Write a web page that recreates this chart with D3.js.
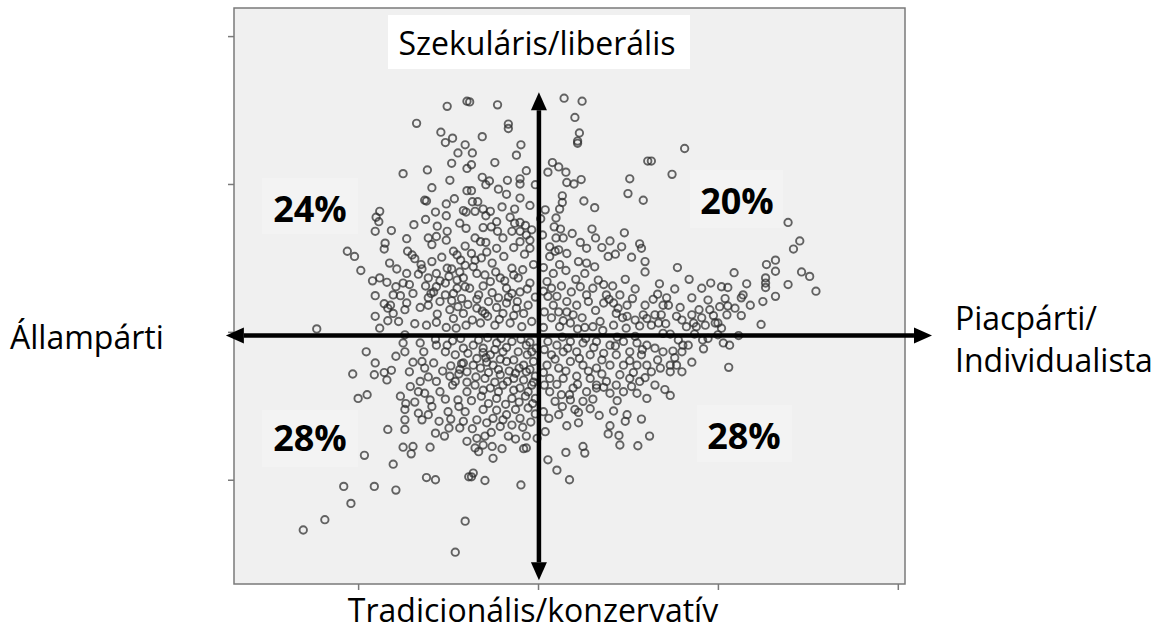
<!DOCTYPE html>
<html>
<head>
<meta charset="utf-8">
<script src="https://cdn.jsdelivr.net/npm/d3@7"></script>
<style>
  body { margin: 0; background: #ffffff; }
</style>
</head>
<body>
<div id="chart"></div>
<script>
// factor scores: [economic (state -> market), cultural (traditional -> secular)]
const scores = [
  [-1.01,3.05],[-0.79,3.12],[-1.35,2.82],[-1.08,2.70],[-1.03,2.56],[-0.95,2.62],[-0.81,2.53],[-0.96,2.28],[-0.79,2.21],[-1.50,2.14],
  [-1.23,2.19],[-0.79,1.91],[-1.26,1.78],[-1.24,1.77],[-0.93,1.80],[-1.02,1.73],[-1.14,1.62],[-1.02,1.57],[-0.83,1.64],[-0.80,1.62],
  [-1.25,1.52],[-1.76,1.63],[-1.80,1.55],[-1.77,1.49],[-1.81,1.36],[-1.63,1.37],[-1.46,1.26],[-0.80,1.40],[-1.01,1.36],[-1.22,1.27],
  [-1.13,1.29],[-1.02,1.24],[-1.70,1.20],
  [-0.76,3.11],[-0.45,3.07],[0.29,3.16],[0.49,3.12],[0.41,2.90],[-0.33,2.81],[-0.33,2.75],[0.46,2.69],[0.44,2.58],[0.44,2.55],
  [-0.62,2.64],[-0.19,2.53],[-0.24,2.39],[-0.73,2.42],[1.22,2.31],[-0.74,2.26],[0.16,2.29],[0.23,2.23],[0.11,2.16],[0.31,2.16],
  [0.32,2.02],[0.40,2.00],[0.48,2.06],[1.02,2.07],[1.00,1.87],[1.17,1.78],[-0.54,2.04],[-0.58,1.99],[-0.34,2.05],[-0.20,2.07],
  [-0.20,2.00],[-0.03,1.99],[-0.35,1.86],[-0.20,1.81],[-0.74,1.91],[-0.73,1.76],[0.27,1.84],[0.27,1.75],[0.24,1.66],[0.20,1.54],
  [0.51,1.77],[0.63,1.68],[-0.40,1.69],[-0.26,1.66],[-0.70,1.63],[-0.61,1.66],[-0.58,1.57],[-0.53,1.63],[-0.46,1.49],[-0.61,1.41],
  [-0.26,1.47],[-0.20,1.48],[-0.14,1.44],[0.08,1.65],[0.03,1.53],[-0.07,1.38],[-0.29,1.36],[-0.20,1.36],[-0.45,1.36],[0.25,1.39],
  [0.20,1.27],[0.28,1.27],[0.60,1.39],[0.64,1.27],[0.80,1.23],[0.96,1.34],[1.13,1.19],[-0.70,1.27],[-0.64,1.22],[-0.20,1.22],
  [-0.09,1.24],
  [1.63,2.48],[1.26,2.31],[1.49,2.13],[2.78,1.48],[2.91,1.23],
  [-2.12,1.09],[-2.04,1.02],[-1.71,1.12],[-1.97,0.83],[-1.65,0.93],[-1.57,0.85],[-1.46,0.79],[-1.45,1.09],[-1.40,1.04],[-1.37,0.99],
  [-1.30,0.91],[-1.29,0.85],[-1.33,0.78],[-1.84,0.69],[-1.76,0.73],[-1.68,0.67],[-1.50,0.66],[-1.22,0.73],[-1.13,0.79],[-1.01,0.86],
  [-0.96,0.85],[-1.18,1.18],[-0.94,1.09],[-0.90,1.04],[-0.81,0.90],[-1.81,0.49],[-1.61,0.50],[-1.53,0.49],[-1.64,0.36],[-1.67,0.32],
  [-1.46,0.39],[-1.48,0.30],[-1.61,0.25],[-1.81,0.21],[-1.67,0.15],[-1.76,0.05],[-1.22,0.46],[-1.22,0.36],[-1.16,0.54],[-1.13,0.61],
  [-1.03,0.66],[-1.03,0.50],[-0.94,0.52],[-0.90,0.59],[-0.81,0.61],[-0.83,0.73],[-0.90,0.70],[-0.98,0.30],[-0.89,0.34],[-0.83,0.25],
  [-1.24,0.09],[-1.13,0.13],[-1.02,0.06],[-0.91,0.05],[-0.80,0.09],[-2.46,0.04],[-1.48,-0.04],[-1.50,-0.15],[-1.48,-0.27],[-1.91,-0.27],
  [-1.81,-0.42],[-2.06,-0.57],[-1.82,-0.58],[-1.71,-0.55],[-1.68,-0.65],[-2.00,-0.90],[-1.90,-0.85],[-1.43,-0.54],[-1.31,-0.15],[-1.27,-0.27],
  [-1.29,-0.40],[-1.26,-0.49],[-1.13,-0.18],[-1.03,-0.27],[-0.92,-0.31],[-0.83,-0.22],[-1.14,-0.10],[-1.01,-0.18],[-1.53,-0.87],[-1.42,-0.74],
  [-1.31,-0.67],[-1.33,-0.81],[-1.26,-0.83],[-1.13,-0.67],[-1.09,-0.81],[-0.98,-0.60],[-0.92,-0.67],[-0.89,-0.92],[-0.79,-0.81],[-1.20,-0.92],
  [-1.03,-0.91],[-0.83,-0.42],[-0.87,-0.51],[-0.79,-0.54],
  [-0.46,1.13],[-0.27,1.14],[-0.09,1.13],[0.13,1.15],[0.23,1.11],[0.32,1.06],[0.54,1.13],[0.78,1.02],[0.93,1.15],[1.15,1.13],
  [1.19,0.95],[1.19,0.81],[-0.70,0.97],[-0.63,1.00],[-0.51,0.93],[-0.68,0.79],[-0.59,0.77],[-0.53,0.68],[-0.42,0.73],[-0.35,0.59],
  [-0.29,0.86],[-0.27,0.77],[-0.22,0.73],[-0.09,0.66],[-0.20,0.54],[-0.29,0.52],[0.13,1.02],[0.19,1.09],[0.24,0.91],[0.17,0.79],
  [0.10,0.68],[0.15,0.59],[0.11,0.48],[0.21,0.48],[0.32,0.41],[0.23,0.27],[0.15,0.19],[0.32,0.27],[0.45,0.95],[0.54,0.93],
  [0.63,0.88],[0.52,0.79],[0.47,0.61],[0.54,0.50],[0.56,0.41],[0.67,0.70],[0.73,0.64],[0.76,0.50],[0.91,0.50],[0.99,0.36],
  [0.84,0.39],[0.73,0.39],[0.87,0.25],[0.99,0.21],[1.08,0.16],[1.19,0.36],[1.17,0.23],[0.43,0.36],[0.39,0.23],[0.49,0.19],
  [0.36,0.12],[0.24,0.07],[0.84,0.09],[0.61,0.07],[0.69,0.14],
  [-0.76,0.59],[-0.66,0.50],[-0.55,0.41],[-0.68,0.32],[-0.59,0.25],[-0.44,0.46],[-0.35,0.39],[-0.39,0.25],[-0.24,0.32],[-0.16,0.25],
  [-0.07,0.14],[-0.64,0.12],[-0.48,0.09],[-0.31,0.12],[-0.18,0.07],
  [-0.72,-0.18],[-0.61,-0.22],[-0.46,-0.15],[-0.29,-0.13],[-0.13,-0.18],[-0.07,-0.27],[-0.22,-0.27],[-0.39,-0.27],[-0.53,-0.31],[-0.68,-0.36],
  [-0.64,-0.49],[-0.50,-0.45],[-0.35,-0.40],[-0.27,-0.38],[-0.16,-0.45],[-0.05,-0.40],[-0.59,-0.63],[-0.42,-0.58],[-0.27,-0.63],[-0.13,-0.54],
  [-0.03,-0.60],[-0.70,-0.72],[-0.53,-0.76],[-0.39,-0.72],[-0.20,-0.76],[-0.07,-0.72],[-0.63,-0.87],[-0.46,-0.90],[-0.29,-0.90],[-0.14,-0.87],
  [-0.03,-0.90],
  [0.11,-0.13],[0.21,-0.18],[0.36,-0.13],[0.50,-0.15],[0.65,-0.13],[0.80,-0.18],[0.95,-0.13],[1.10,-0.15],[1.21,-0.18],[0.15,-0.31],
  [0.28,-0.27],[0.43,-0.27],[0.58,-0.31],[0.73,-0.29],[0.87,-0.31],[1.02,-0.27],[1.15,-0.31],[0.10,-0.45],[0.23,-0.49],[0.36,-0.40],
  [0.50,-0.45],[0.65,-0.49],[0.80,-0.45],[0.95,-0.45],[1.10,-0.45],[1.21,-0.45],[0.13,-0.63],[0.28,-0.63],[0.43,-0.60],[0.58,-0.63],
  [0.65,-0.72],[0.76,-0.67],[0.87,-0.72],[1.02,-0.63],[1.13,-0.67],[0.13,-0.81],[0.26,-0.85],[0.39,-0.76],[0.54,-0.81],[0.65,-0.76],
  [0.80,-0.83],[0.95,-0.81],[1.10,-0.83],[1.21,-0.90],[0.19,-0.94],[0.36,-0.92],[0.50,-0.94],
  [2.84,1.12],[1.55,0.87],[2.54,0.91],[2.64,0.97],[2.64,0.82],[2.93,0.81],[3.02,0.75],[3.09,0.55],[2.18,0.80],[1.35,0.65],
  [2.32,0.65],[2.78,0.64],[2.53,0.73],[2.53,0.66],[2.53,0.60],[2.64,0.48],[2.50,0.41],[2.36,0.36],[2.26,0.46],[2.28,0.50],
  [2.04,0.61],[2.11,0.60],[1.82,0.59],[1.71,0.46],[1.43,0.46],[1.45,0.36],[1.39,0.36],[1.89,0.43],[2.08,0.45],[2.11,0.35],
  [2.02,0.34],[1.91,0.30],[1.79,0.30],[2.10,0.23],[2.26,0.22],[2.48,0.10],[1.97,0.12],[2.00,0.12],[1.26,0.09],[1.30,0.23],
  [1.37,0.23],[1.54,0.21],[1.60,0.16],[1.71,0.23],[1.73,0.12],[1.82,0.19],[1.86,0.09],[1.65,0.07],[2.23,-0.05],[2.06,-0.15],
  [2.13,-0.18],[1.84,-0.23],[1.61,-0.18],[1.67,-0.18],[1.56,-0.11],[1.47,-0.03],[1.39,-0.02],[1.74,-0.03],[1.89,-0.09],[2.00,-0.04],
  [1.30,-0.22],[1.39,-0.27],[1.60,-0.27],[1.50,-0.26],[2.12,-0.48],[1.36,-0.49],[1.47,-0.45],[1.54,-0.45],[1.60,-0.54],[1.47,-0.54],
  [1.26,-0.54],[1.30,-0.72],[1.41,-0.78],[1.47,-0.86],
  [-1.67,-1.32],[-1.48,-1.32],[-1.48,-1.19],[-1.48,-1.05],[-1.47,-0.97],[-1.33,-1.10],[-1.22,-1.12],[-1.29,-1.19],[-1.14,-1.37],[-1.04,-1.41],
  [-1.10,-1.21],[-1.00,-1.08],[-0.99,-1.30],[-0.87,-1.30],[-0.83,-1.21],[-0.81,-1.08],[-0.79,-1.48],[-1.50,-1.56],[-1.39,-1.55],[-1.41,-1.65],
  [-1.20,-1.56],[-1.93,-1.67],[-1.61,-1.79],[-1.24,-1.97],[-1.14,-2.00],[-0.77,-1.96],[-2.16,-2.09],[-1.82,-2.09],[-1.58,-2.14],[-2.08,-2.32],
  [-2.37,-2.54],[-2.61,-2.68],[-0.81,-2.56],[-0.92,-2.98],
  [-0.61,-1.05],[-0.68,-1.19],[-0.57,-1.23],[-0.50,-1.17],[-0.42,-1.28],[-0.29,-1.26],[-0.35,-1.12],[-0.20,-1.17],[-0.11,-1.03],[0.06,-1.08],
  [0.23,-1.12],[0.32,-1.27],[0.45,-1.23],[0.41,-1.05],[0.58,-1.04],[0.84,-1.07],[0.99,-1.12],[0.97,-1.21],[1.15,-1.18],[1.24,-1.41],
  [0.80,-1.27],[0.78,-1.38],[0.90,-1.40],[0.91,-1.53],[1.11,-1.54],[-0.68,-1.44],[-0.59,-1.41],[-0.61,-1.53],[-0.70,-1.57],[-0.66,-1.62],
  [-0.51,-1.55],[-0.40,-1.58],[-0.50,-1.71],[-0.25,-1.45],[-0.13,-1.41],[-0.13,-1.57],[-0.16,-1.58],[0.08,-1.35],[-0.01,-1.44],[0.11,-1.73],
  [0.21,-1.87],[0.35,-2.00],[0.31,-1.63],[0.50,-1.55],[0.52,-1.64],[-0.72,-1.91],[-0.74,-1.96],[-0.59,-2.01],[-0.19,-2.07]
];

// respondents in the crowded core, read where circles overlap
const scoresCore = [
  [-1.18,0.95],[-1.07,1.01],[-0.86,0.97],[-0.74,1.06],[-0.57,1.08],[-0.38,1.02],[-0.15,1.05],[-1.25,0.62],[-1.09,0.69],[-0.99,0.75],
  [-0.87,0.81],[-0.72,0.88],[-0.61,0.62],[-0.47,0.81],[-0.37,0.69],[-0.17,0.84],[-0.05,0.91],[-0.12,0.58],[-0.33,0.47],[-0.51,0.53],
  [-0.68,0.44],[-0.85,0.45],[-1.09,0.41],[-1.31,0.33],[-1.39,0.52],[-1.43,0.64],[-1.58,0.61],[-1.71,0.38],[-1.55,0.14],[-1.37,0.11],
  [-1.12,0.24],[-0.94,0.18],[-0.73,0.16],[-0.56,0.21],[-0.43,0.17],[-0.27,0.22],[-0.11,0.36],[-0.03,0.47],[-0.23,0.41],[-0.46,0.33],
  [-0.62,0.28],[-0.78,0.37],[-0.96,0.42],[-1.19,0.52],[-0.81,1.16],[-0.58,1.21],[-0.39,1.27],[-0.13,1.31],[-0.31,1.55],[-0.52,1.42],
  [-0.87,1.47],[-1.12,1.43],[-1.38,1.45],[-0.67,1.76],[-0.44,1.93],[-0.09,1.71],[-0.13,2.18],[-0.48,2.29],[-0.98,2.05],[-1.18,1.95],
  [-0.62,2.09],[-0.89,2.42],
  [0.05,1.31],[0.18,1.42],[0.38,1.33],[0.47,1.21],[0.71,1.14],[0.86,1.05],[1.04,1.01],[0.06,0.87],[0.31,0.83],[0.42,0.71],
  [0.61,0.59],[0.83,0.62],[0.97,0.71],[1.08,0.58],[1.28,0.44],[1.05,0.45],[0.89,0.32],[0.64,0.29],[0.52,0.06],[0.28,0.15],
  [0.07,0.27],[0.06,0.06],[0.44,0.04],[0.72,0.02],[0.98,0.05],[1.13,0.08],[1.34,0.12],[0.17,0.36],[0.37,0.54],[0.26,0.62],
  [0.06,0.55],[0.79,0.44],[0.94,0.19],[1.21,0.18],
  [-0.95,-0.12],[-0.86,-0.09],[-0.78,-0.29],[-0.66,-0.11],[-0.56,-0.08],[-0.41,-0.09],[-0.19,-0.10],[-0.09,-0.14],[-0.35,-0.21],[-0.48,-0.24],
  [-0.57,-0.41],[-0.72,-0.45],[-0.85,-0.43],[-0.97,-0.46],[-0.44,-0.51],[-0.32,-0.53],[-0.21,-0.49],[-0.09,-0.51],[-0.55,-0.55],[-0.69,-0.61],
  [-0.79,-0.68],[-0.48,-0.68],[-0.34,-0.67],[-0.16,-0.65],[-0.05,-0.68],[-0.61,-0.79],[-0.44,-0.81],[-0.27,-0.79],[-0.11,-0.81],[-0.74,-0.93],
  [-0.55,-0.97],[-0.36,-0.98],[-0.21,-0.95],[-0.06,-0.97],[-0.88,-1.01],[-0.46,-1.06],[-0.25,-1.05],[-0.03,-1.11],[-0.58,-0.35],[-0.42,-0.37],
  [-0.12,-0.31],[-0.02,-0.22],[-0.25,-0.56],[-0.61,-0.28],[-0.88,-0.57],[-0.95,-0.72],[-1.06,-0.53],[-1.16,-0.42],[-1.22,-0.61],[-1.39,-0.41],
  [-1.58,-0.33],[-1.63,-0.52],[-1.37,-0.95],[-1.18,-1.01],[-0.97,-1.18],[-0.73,-1.31],[-0.52,-1.36],[-0.33,-1.41],[-0.17,-1.29],[-0.39,-1.19],
  [-0.08,-1.22],
  [0.07,-0.24],[0.19,-0.37],[0.33,-0.22],[0.46,-0.36],[0.62,-0.21],[0.71,-0.38],[0.86,-0.19],[1.02,-0.39],[1.16,-0.24],[0.06,-0.55],
  [0.31,-0.53],[0.44,-0.71],[0.56,-0.53],[0.71,-0.57],[0.91,-0.58],[1.06,-0.55],[0.21,-0.71],[0.35,-0.85],[0.07,-0.72],[0.73,-0.75],
  [0.88,-0.93],[1.04,-0.74],[0.61,-0.91],[0.27,-1.01],[0.45,-1.09],[0.12,-1.17],[0.68,-1.13],[1.19,-0.62],[1.33,-0.38],[0.53,-0.09],
  [0.27,-0.07],[0.88,-0.07],[1.08,-0.06],
  [1.42,0.11],[1.58,0.33],[1.76,0.07],[1.95,0.22],[1.33,0.51],[1.52,0.58],[1.68,0.71],[1.92,0.66],[2.19,0.32],[1.52,-0.35],
  [1.71,-0.41],[1.83,-0.11],[2.04,0.05]
];

const xTicks = [-2, 0, 2, 4];
const yTicks = [-2, 0, 2, 4];
const xDomain = [-3.38, 4.08];
const yDomain = [-3.41, 4.38];

const topLabel = "Szekuláris/liberális";
const bottomLabel = "Tradicionális/konzervatív";
const leftLabel = "Állampárti";
const rightLabel = ["Piacpárti/", "Individualista"];
const quadrantShares = ["24%", "20%", "28%", "28%"];

const width = 1160;
const height = 632;
const plot = { left: 234, right: 905, top: 8, bottom: 584 };
const labelFont = "'Open Sans', 'Noto Sans', sans-serif";

const svg = d3.select("#chart")
  .append("svg")
  .attr("width", width)
  .attr("height", height)
  .style("background", "#ffffff");

const x = d3.scaleLinear().domain(xDomain).range([plot.left, plot.right]);
const y = d3.scaleLinear().domain(yDomain).range([plot.bottom, plot.top]);

// plot background
svg.append("rect")
  .attr("x", plot.left)
  .attr("y", plot.top)
  .attr("width", plot.right - plot.left)
  .attr("height", plot.bottom - plot.top)
  .attr("fill", "#f0f0f0");

// tick marks only, no labels
const yAxis = svg.append("g")
  .attr("transform", `translate(${plot.left},0)`)
  .call(d3.axisLeft(y).tickValues(yTicks).tickSize(6).tickFormat(""));
const xAxis = svg.append("g")
  .attr("transform", `translate(0,${plot.bottom})`)
  .call(d3.axisBottom(x).tickValues(xTicks).tickSize(6).tickFormat(""));
[xAxis, yAxis].forEach(g => {
  g.select(".domain").remove();
  g.selectAll(".tick line").attr("stroke", "#7a7a7a").attr("stroke-width", 1.5);
});

// frame
svg.append("rect")
  .attr("x", plot.left)
  .attr("y", plot.top)
  .attr("width", plot.right - plot.left)
  .attr("height", plot.bottom - plot.top)
  .attr("fill", "none")
  .attr("stroke", "#7a7a7a")
  .attr("stroke-width", 1.5);

// points
svg.append("g")
  .selectAll("circle")
  .data(scores.concat(scoresCore))
  .join("circle")
  .attr("cx", d => x(d[0]))
  .attr("cy", d => y(d[1]))
  .attr("r", 3.7)
  .attr("fill", "none")
  .attr("stroke", "#2b2b2b")
  .attr("stroke-opacity", 0.72)
  .attr("stroke-width", 1.9);

// arrows through the origin
function arrow(x1, y1, x2, y2) {
  const ang = Math.atan2(y2 - y1, x2 - x1);
  const len = 18, half = 8;
  const bx = x2 - len * Math.cos(ang), by = y2 - len * Math.sin(ang);
  svg.append("line")
    .attr("x1", x1).attr("y1", y1)
    .attr("x2", bx).attr("y2", by)
    .attr("stroke", "#000")
    .attr("stroke-width", 4.5);
  svg.append("path")
    .attr("d", `M${x2},${y2}L${bx - half * Math.sin(ang)},${by + half * Math.cos(ang)}L${bx + half * Math.sin(ang)},${by - half * Math.cos(ang)}Z`)
    .attr("fill", "#000");
}
const axisY = -0.05, axisX = 0.01;
const hx0 = x(-3.47), hx1 = x(4.38);
const vy0 = y(-3.36), vy1 = y(3.24);
arrow((hx0 + hx1) / 2, y(axisY), hx0, y(axisY));
arrow((hx0 + hx1) / 2, y(axisY), hx1, y(axisY));
arrow(x(axisX), (vy0 + vy1) / 2, x(axisX), vy1);
arrow(x(axisX), (vy0 + vy1) / 2, x(axisX), vy0);

// top label with white box
svg.append("rect")
  .attr("x", 388).attr("y", 15)
  .attr("width", 302).attr("height", 54)
  .attr("fill", "#ffffff");
svg.append("text")
  .attr("x", 537).attr("y", 55)
  .attr("text-anchor", "middle")
  .style("font-family", labelFont)
  .style("font-size", "32px")
  .attr("fill", "#000")
  .text(topLabel);

svg.append("text")
  .attr("x", 533).attr("y", 622)
  .attr("text-anchor", "middle")
  .style("font-family", labelFont)
  .style("font-size", "32px")
  .attr("fill", "#000")
  .text(bottomLabel);

svg.append("text")
  .attr("x", 10).attr("y", 349)
  .style("font-family", labelFont)
  .style("font-size", "32px")
  .attr("fill", "#000")
  .text(leftLabel);

rightLabel.forEach((t, i) => {
  svg.append("text")
    .attr("x", 955).attr("y", 330 + i * 42)
    .style("font-family", labelFont)
    .style("font-size", "32px")
    .attr("fill", "#000")
    .text(t);
});

// quadrant shares
const sharePos = [
  { cx: 310, base: 222, box: [262, 178, 96, 56] },
  { cx: 737, base: 214, box: [690, 170, 93, 58] },
  { cx: 310, base: 451, box: [262, 410, 96, 57] },
  { cx: 744, base: 449, box: [697, 405, 95, 57] }
];
quadrantShares.forEach((s, i) => {
  const p = sharePos[i];
  svg.append("rect")
    .attr("x", p.box[0]).attr("y", p.box[1])
    .attr("width", p.box[2]).attr("height", p.box[3])
    .attr("fill", "#f3f3f3");
  svg.append("text")
    .attr("x", p.cx).attr("y", p.base)
    .attr("text-anchor", "middle")
    .style("font-family", labelFont)
    .style("font-size", "36px")
    .style("font-weight", "bold")
    .attr("fill", "#000")
    .text(s);
});
</script>
</body>
</html>
